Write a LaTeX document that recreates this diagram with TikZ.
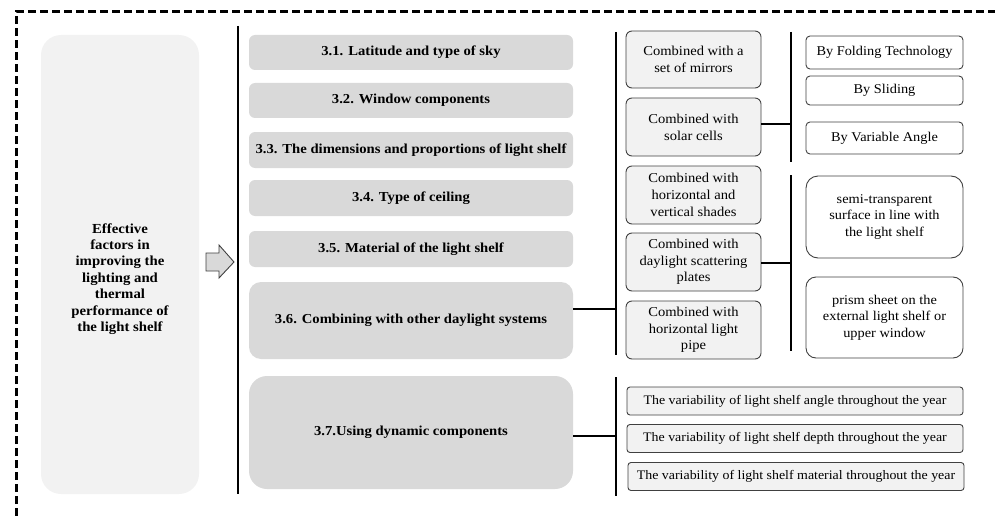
\documentclass[tikz,border=0pt]{standalone}
\usepackage{fontspec}
\setmainfont[FakeStretch=1.07]{Liberation Serif}
\definecolor{gfill}{HTML}{D9D9D9}
\definecolor{lfill}{HTML}{F2F2F2}
\definecolor{bord}{HTML}{404040}
\begin{document}
\begin{tikzpicture}[x=1pt,y=-1pt,
  mainbox/.style={fill=lfill, rounded corners=20pt, minimum width=158pt, minimum height=459pt, inner sep=0pt},
  maintxt/.style={inner sep=0pt, align=center, font=\bfseries\fontsize{13.8}{16.4}\selectfont},
  gbox/.style={fill=gfill, rounded corners=6pt, minimum width=324pt, inner sep=0pt, align=center, font=\bfseries\fontsize{13.7}{15}\selectfont},
  cbox/.style={fill=lfill, draw=bord, line width=0.9pt, rounded corners=6pt, minimum width=135pt, inner sep=0pt, align=center, font=\fontsize{13.6}{16.7}\selectfont},
  rbox/.style={fill=white, draw=bord, line width=0.9pt, rounded corners=4pt, minimum width=157pt, inner sep=0pt, align=center, font=\fontsize{13.4}{16.7}\selectfont},
  vbox/.style={fill=lfill, draw=bord, line width=0.9pt, rounded corners=3pt, minimum width=336pt, minimum height=28pt, inner sep=0pt, align=center, font=\fontsize{13}{14}\selectfont},
  vline/.style={line width=2pt, black},
  conn/.style={line width=2pt, black},
  frame/.style={line width=2.4pt, dash pattern=on 8pt off 4pt},
  arrowshape/.style={fill=gfill, draw=bord, line width=0.9pt, line join=miter}
]
\useasboundingbox (0,0) rectangle (995,516);
% dashed frame
\coordinate (fl) at (16.5,11.5);
\coordinate (fr) at (995,11.5);
\coordinate (fb) at (16.5,516);
\draw[frame] (fb) -- (fl) -- (fr);

% main box
\node[mainbox] (main) at (120,264.5) {};
\node[maintxt] (maintext) at (120,279) {Effective\\factors in\\improving the\\lighting and\\thermal\\performance of\\the light shelf};

% arrow
\draw[arrowshape] (206,253) -- (219,253) -- (219,245) -- (234,262) -- (219,278) -- (219,271) -- (206,271) -- cycle;

% vertical line 1
\coordinate (v1t) at (237.7,26);
\coordinate (v1b) at (237.7,494);
\draw[vline] (v1t) -- (v1b);

% gray boxes
\node[gbox, minimum height=35pt] (s1) at (411,52.5) {3.1. Latitude and type of sky};
\node[gbox, minimum height=35pt] (s2) at (411,100.5) {3.2. Window components};
\node[gbox, minimum height=36pt] (s3) at (411,150) {3.3. The dimensions and proportions of light shelf};
\node[gbox, minimum height=36pt] (s4) at (411,198) {3.4. Type of ceiling};
\node[gbox, minimum height=36pt] (s5) at (411,249) {3.5. Material of the light shelf};
\node[gbox, minimum height=77pt, rounded corners=12pt] (s6) at (411,320.5) {3.6. Combining with other daylight systems};
\node[gbox, minimum height=113pt, rounded corners=18pt] (s7) at (411,432.5) {3.7.Using dynamic components};

% vertical lines 2,3
\coordinate (v2t) at (616,32);
\coordinate (v2b) at (616,355);
\draw[vline] (v2t) -- (v2b);
\coordinate (v3t) at (616,377);
\coordinate (v3b) at (616,496);
\draw[vline] (v3t) -- (v3b);
\draw[conn] (s6.east |- 0,309) -- (v2t |- 0,309);
\draw[conn] (s7.east |- 0,436) -- (v3t |- 0,436);

% combined boxes
\node[cbox, minimum height=57pt] (c1) at (693.5,59.5) {Combined with a\\set of mirrors};
\node[cbox, minimum height=58pt] (c2) at (693.5,127) {Combined with\\solar cells};
\node[cbox, minimum height=58pt] (c3) at (693.5,195) {Combined with\\horizontal and\\vertical shades};
\node[cbox, minimum height=58pt] (c4) at (693.5,262) {Combined with\\daylight scattering\\plates};
\node[cbox, minimum height=58pt] (c5) at (693.5,330) {Combined with\\horizontal light\\pipe};

% vertical lines 4,5
\coordinate (v4t) at (791,32);
\coordinate (v4b) at (791,162);
\draw[vline] (v4t) -- (v4b);
\coordinate (v5t) at (791,175);
\coordinate (v5b) at (791,351);
\draw[vline] (v5t) -- (v5b);
\draw[conn] (c2.east |- 0,124) -- (v4t |- 0,124);
\draw[conn] (c4.east |- 0,263) -- (v5t |- 0,263);

% right boxes
\node[rbox, minimum height=33pt] (r1) at (884.5,52.5) {By Folding Technology};
\node[rbox, minimum height=29pt] (r2) at (884.5,90.5) {By Sliding};
\node[rbox, minimum height=32pt] (r3) at (884.5,138) {By Variable Angle};
\node[rbox, minimum height=82pt, rounded corners=12pt] (r4) at (884.5,217) {semi-transparent\\surface in line with\\the light shelf};
\node[rbox, minimum height=81pt, rounded corners=10pt] (r5) at (884.5,317.5) {prism sheet on the\\external light shelf or\\upper window};

% variability boxes
\node[vbox] (d1) at (795,401) {The variability of light shelf angle throughout the year};
\node[vbox] (d2) at (795,438.5) {The variability of light shelf depth throughout the year};
\node[vbox] (d3) at (796,476.5) {The variability of light shelf material throughout the year};
\end{tikzpicture}
\end{document}
